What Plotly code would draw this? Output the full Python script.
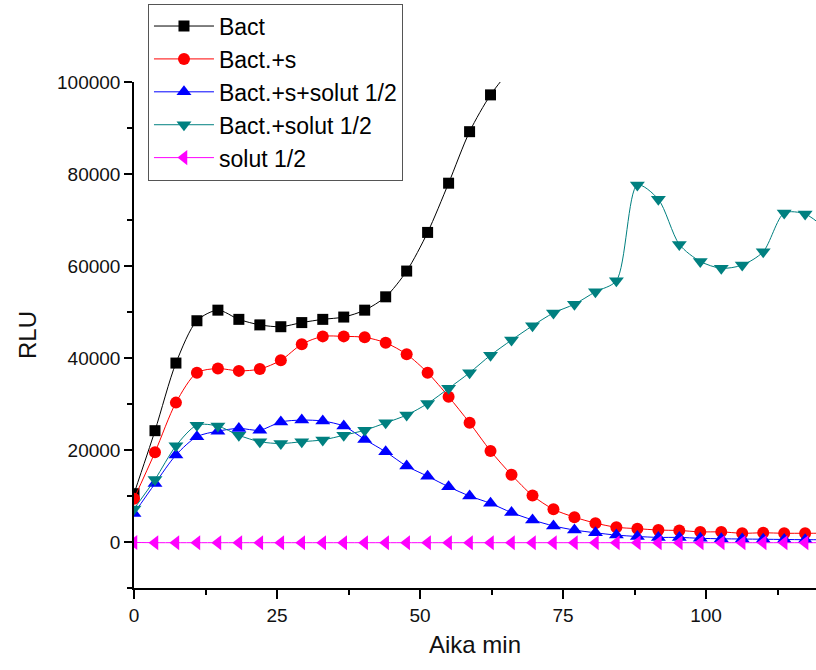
import plotly.graph_objects as go

# Time (min), sampled every 3 min 40 s
time_min = [0, 3.67, 7.33, 11, 14.67, 18.33, 22, 25.67, 29.33, 33, 36.67, 40.33,
            44, 47.67, 51.33, 55, 58.67, 62.33, 66, 69.67, 73.33, 77, 80.67, 84.33,
            88, 91.67, 95.33, 99, 102.67, 106.33, 110, 113.67, 117.33, 121]

bact = [10500, 24200, 38900, 48100, 50400, 48400, 47200, 46800, 47700, 48400,
        48900, 50400, 53300, 58900, 67300, 78000, 89200, 97200, 103000]

bact_s = [9400, 19500, 30300, 36800, 37700, 37200, 37600, 39500, 43000, 44700,
          44700, 44500, 43300, 40800, 36800, 31600, 25900, 19800, 14600, 10100,
          7100, 5400, 4100, 3200, 2900, 2600, 2500, 2200, 2200, 1900, 2000, 1900,
          1900, 1900]

bact_s_solut = [6200, 12700, 18900, 22900, 24100, 24700, 24300, 26100, 26500, 26300,
                25200, 22300, 19600, 16500, 14300, 12000, 10000, 8400, 6400, 4800,
                3500, 2600, 2000, 1500, 1200, 1000, 1000, 800, 700, 650, 600, 550,
                500, 500]

bact_solut = [7200, 13600, 20900, 25400, 25200, 23200, 21800, 21400, 21800, 22200,
              23200, 24300, 25900, 27600, 30100, 33400, 36800, 40600, 43900, 47000,
              49800, 51700, 54400, 56800, 77600, 74500, 64700, 61000, 59500, 60200,
              63100, 71500, 71300, 68000]

solut = [-100, -150, -150, -150, -150, -150, -150, -150, -150, -150, -150, -150,
         -150, -150, -150, -150, -150, -150, -150, -150, -150, -150, -150, -150,
         -150, -150, -150, -150, -150, -150, -150, -150, -150, -150]

series_names = ["Bact", "Bact.+s", "Bact.+s+solut 1/2", "Bact.+solut 1/2", "solut 1/2"]
series_values = [bact, bact_s, bact_s_solut, bact_solut, solut]
series_colors = ["#000000", "#ff0000", "#0000ff", "#008080", "#ff00ff"]
series_symbols = ["square", "circle", "triangle-up", "triangle-down", "triangle-left"]
series_sizes = [11, 12, 13, 13, 13]

fig = go.Figure()
for name, vals, col, sym, sz in zip(series_names, series_values, series_colors,
                                     series_symbols, series_sizes):
    fig.add_trace(go.Scatter(
        x=time_min[:len(vals)], y=vals, name=name, mode="lines+markers",
        line=dict(color=col, width=1, shape="spline", smoothing=0.8),
        marker=dict(symbol=sym, size=sz, color=col, line=dict(width=0)),
    ))

FAM = "Liberation Sans, Arial"
axis_font = dict(family=FAM, size=19, color="#111111")
title_font = dict(family=FAM, size=24, color="#111111")

fig.update_layout(
    width=816, height=670, autosize=False,
    margin=dict(l=134, r=0, t=82, b=82),
    paper_bgcolor="white", plot_bgcolor="white",
    font=dict(family=FAM, color="#111111"),
    showlegend=True,
    legend=dict(
        x=0.0205, y=1.155, xanchor="left", yanchor="top",
        bgcolor="white", bordercolor="#555555", borderwidth=1,
        font=dict(family=FAM, size=23, color="#000000"),
        itemwidth=60, tracegroupgap=0,
    ),
    xaxis=dict(
        range=[0, 119.23], tick0=0, dtick=25, ticks="outside", ticklen=9,
        tickwidth=1.5, tickcolor="black", showline=True, linecolor="black",
        linewidth=1.5, showgrid=False, zeroline=False, tickfont=axis_font,
        minor=dict(dtick=12.5, tick0=0, ticks="outside", ticklen=5,
                   tickwidth=1.5, tickcolor="black", showgrid=False),
        title=dict(text="Aika min", font=title_font, standoff=12),
    ),
    yaxis=dict(
        range=[-10000, 100000], tick0=0, dtick=20000, tickformat="d",
        ticks="outside", ticklen=8, tickwidth=1.5, tickcolor="black",
        showline=True, linecolor="black", linewidth=1.5, showgrid=False,
        zeroline=False, tickfont=axis_font,
        minor=dict(dtick=10000, tick0=0, ticks="outside", ticklen=5,
                   tickwidth=1.5, tickcolor="black", showgrid=False),
        title=dict(text="RLU", font=title_font, standoff=14),
    ),
)

fig.write_html("out.html")
